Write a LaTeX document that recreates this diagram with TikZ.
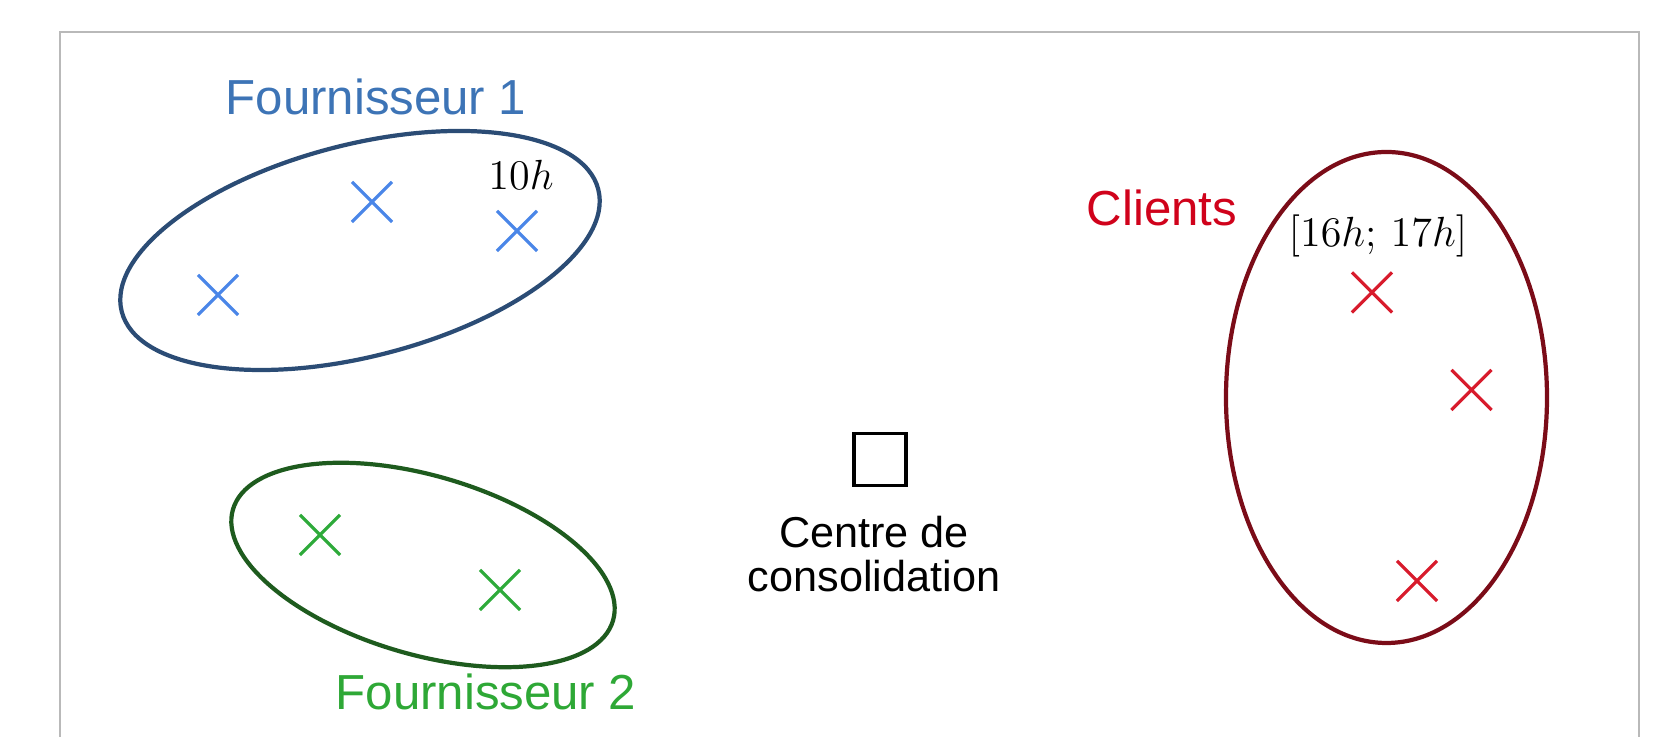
\documentclass[tikz,border=0pt]{standalone}
\usepackage{fontspec}
\setsansfont{Liberation Sans}
\usetikzlibrary{positioning, shapes.misc}

\definecolor{supOneText}{HTML}{3D74B6}
\definecolor{supOneEdge}{HTML}{2B4C75}
\definecolor{supOneMark}{HTML}{4A86E8}
\definecolor{supTwoText}{HTML}{2EA836}
\definecolor{supTwoEdge}{HTML}{1E5B1E}
\definecolor{supTwoMark}{HTML}{2EAA3A}
\definecolor{clientText}{HTML}{D0021B}
\definecolor{clientEdge}{HTML}{7B0C18}
\definecolor{clientMark}{HTML}{D81B2C}

\begin{document}
\begin{tikzpicture}[
    grouplabel/.style={font=\sffamily\fontsize{14}{17}\selectfont, inner sep=0pt, anchor=base},
    hourlabel/.style={font=\fontsize{12.6}{15}\selectfont, inner sep=0pt, anchor=base},
    xmark/.style={cross out, draw, minimum size=3.7mm, inner sep=0pt, line width=0.9pt},
    zone/.style={line width=1.2pt}
]

\useasboundingbox (0,0) rectangle (16.67,7.37);

% Open frame
\draw[gray!55, line width=0.4pt] (0.60,0) -- (0.60,7.05) -- (16.39,7.05) -- (16.39,0);

% Fournisseur 1
\draw[zone, supOneEdge, rotate around={14.4:(3.60,4.865)}] (3.60,4.865) ellipse (2.46 and 1.06);
\node[grouplabel, text=supOneText] (sup1) at (3.76,6.22) {Fournisseur 1};
\node[xmark, draw=supOneMark] (s1a) at (2.18,4.42) {};
\node[xmark, draw=supOneMark] (s1b) at (3.72,5.35) {};
\node[xmark, draw=supOneMark] (s1c) at (5.17,5.06) {};
\node[hourlabel] (h1) at (5.21,5.47) {$10h$};

% Fournisseur 2
\draw[zone, supTwoEdge, rotate around={-16.3:(4.23,1.72)}] (4.23,1.72) ellipse (1.98 and 0.894);
\node[grouplabel, text=supTwoText] (sup2) at (4.86,0.27) {Fournisseur 2};
\node[xmark, draw=supTwoMark] (s2a) at (3.20,2.02) {};
\node[xmark, draw=supTwoMark] (s2b) at (5.00,1.47) {};

% Clients
\draw[zone, clientEdge] (13.865,3.395) ellipse (1.605 and 2.455);
\node[grouplabel, text=clientText] (cli) at (11.62,5.11) {Clients};
\node[xmark, draw=clientMark] (c1) at (13.72,4.445) {};
\node[xmark, draw=clientMark] (c2) at (14.715,3.47) {};
\node[xmark, draw=clientMark] (c3) at (14.17,1.56) {};
\node[hourlabel] (h2) at (13.78,4.90) {$[16h;\,17h]$};

% Centre de consolidation
\node[draw, line width=1.1pt, minimum size=5.2mm, inner sep=0pt] (depot) at (8.80,2.775) {};
\node[below=2.8mm of depot, xshift=-0.6mm, align=center, inner sep=0pt,
      font=\sffamily\fontsize{12.3}{12.4}\selectfont] (depotname) {Centre de\\consolidation};

\end{tikzpicture}
\end{document}
